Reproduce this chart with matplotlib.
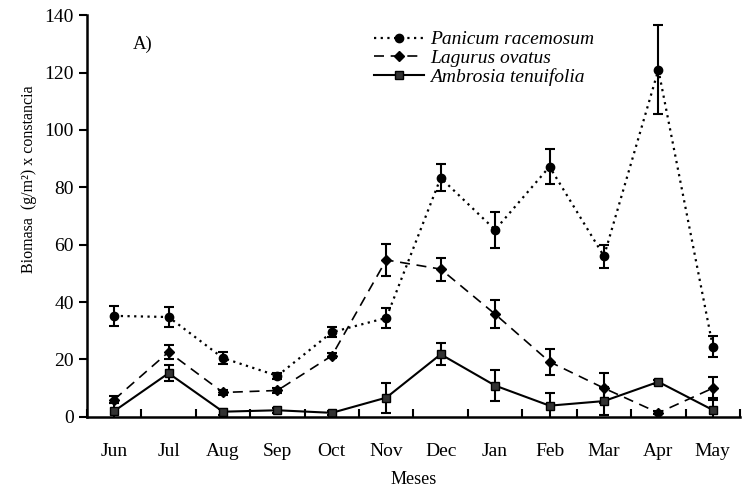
import numpy as np
import matplotlib
matplotlib.use('Agg')
import matplotlib.pyplot as plt
from matplotlib.lines import Line2D

plt.rcParams['font.family'] = ['Liberation Serif', 'DejaVu Serif']

months = ['Jun', 'Jul', 'Aug', 'Sep', 'Oct', 'Nov', 'Dec', 'Jan', 'Feb', 'Mar', 'Apr', 'May']

# Panicum racemosum
panicum = [35.2, 34.8, 20.5, 14.3, 29.5, 34.5, 83.3, 65.2, 87.2, 56.0, 121.0, 24.5]
panicum_err = [3.5, 3.5, 2.0, 1.0, 1.8, 3.5, 4.7, 6.3, 6.0, 4.0, 15.5, 3.8]

# Lagurus ovatus
lagurus = [6.0, 22.6, 8.5, 9.2, 21.3, 54.7, 51.5, 35.8, 19.2, 10.0, 1.4, 10.0]
lagurus_err = [1.2, 2.5, 0.8, 0.8, 0.8, 5.5, 4.0, 5.0, 4.5, 5.2, 0.5, 4.0]

# Ambrosia tenuifolia
ambrosia = [2.0, 15.2, 1.8, 2.3, 1.4, 6.7, 21.8, 10.9, 3.9, 5.5, 12.2, 2.4]
ambrosia_err = [3.0, 2.8, 1.0, 0.8, 0.8, 5.2, 3.8, 5.5, 4.5, 5.0, 0.6, 4.0]

x = np.arange(len(months))

fig = plt.figure(figsize=(7.43, 4.91), dpi=100)
ax = fig.add_axes([0.117, 0.151, 0.879, 0.818])

styles = [
    dict(ls=(0, (1, 2)), lw=1.6, marker='o', ms=6, mfc='black'),
    dict(ls=(0, (6, 4)), lw=1.2, marker='D', ms=5, mfc='black'),
    dict(ls='-', lw=1.5, marker='s', ms=5.5, mfc='#333333'),
]
names = ['Panicum racemosum', 'Lagurus ovatus', 'Ambrosia tenuifolia']

ekw = dict(ecolor='black', elinewidth=1.5, capsize=3.5, capthick=1.5)
handles = []
for y, e, st, nm in zip([panicum, lagurus, ambrosia],
                        [panicum_err, lagurus_err, ambrosia_err], styles, names):
    ax.errorbar(x, y, yerr=e, color='black', mec='black', **st, **ekw)
    handles.append(Line2D([], [], color='black', mec='black', **st, label=nm))

ax.set_xlim(-0.5, len(months) - 0.5)
ax.set_ylim(0, 140)
ax.set_yticks(np.arange(0, 141, 20))
ax.set_xticks(x)
ax.set_xticklabels(months)
ax.set_xticks(np.arange(-0.5, len(months)), minor=True)
ax.tick_params(axis='x', which='major', length=0, pad=19, labelsize=14)
ax.tick_params(axis='x', which='minor', direction='in', length=6, width=1.5)
ax.tick_params(axis='y', direction='out', length=6, width=1.5, labelsize=14)

for s in ['top', 'right']:
    ax.spines[s].set_visible(False)
for s in ['left', 'bottom']:
    ax.spines[s].set_linewidth(1.8)

ax.set_xlabel('Meses', fontsize=13, labelpad=8)
ax.set_ylabel('Biomasa  (g/m²) x constancia', fontsize=11.5)
ax.yaxis.set_label_coords(-0.076, 0.592)

ax.text(0.07, 0.915, 'A)', transform=ax.transAxes, fontsize=13.5)

ax.legend(handles=handles, loc='upper left', bbox_to_anchor=(0.412, 1.005), frameon=False,
          prop={'style': 'italic', 'size': 14}, handlelength=2.6,
          labelspacing=0.05, handletextpad=0.3)

fig.savefig('out.png', dpi=100)
